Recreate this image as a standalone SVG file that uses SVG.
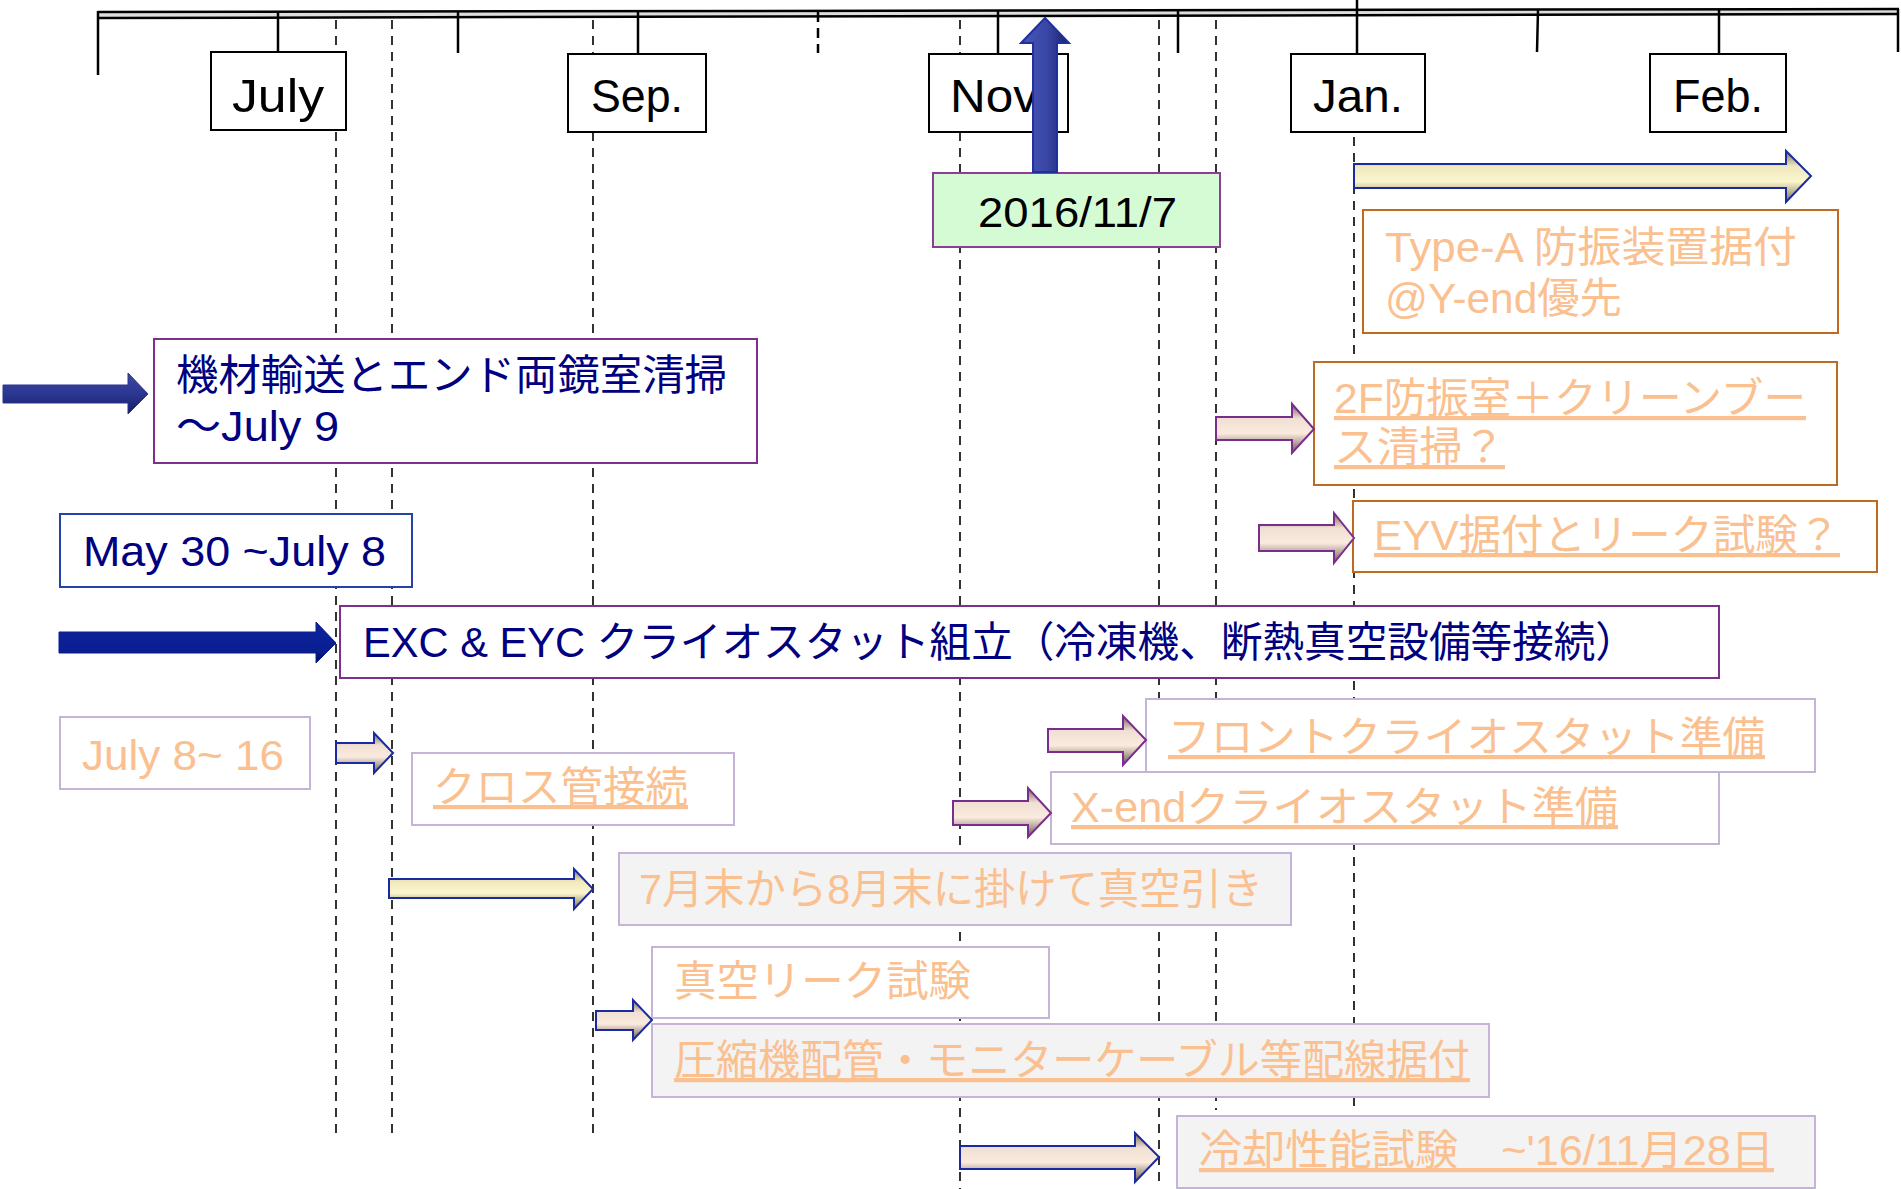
<svg xmlns="http://www.w3.org/2000/svg" width="1901" height="1189" viewBox="0 0 1901 1189">
<defs>
<style>
text{font-family:"Liberation Sans","Noto Sans CJK JP",sans-serif;}
.mon{font-size:46px;fill:#000;}
.nv{font-size:42px;fill:#000080;}
.or{font-size:42px;fill:#FAC090;}
.ul{text-decoration:underline;}
.mbox{fill:#fff;stroke:#000;stroke-width:2;}
.pbox{fill:#fff;stroke:#7E2E8C;stroke-width:2;}
.obox{fill:#fff;stroke:#BF6A1E;stroke-width:2;}
.lbox{fill:#fff;stroke:#C6B4D8;stroke-width:2;}
.gbox{fill:#F3F3F3;stroke:#C6B4D8;stroke-width:2;}
.bbox{fill:#fff;stroke:#2442A8;stroke-width:2;}
.tick{stroke:#000;stroke-width:2.5;fill:none;}
.dash{stroke:#000;stroke-width:1.6;stroke-dasharray:9 7;fill:none;}
.ay{fill:url(#gy);stroke:#1A2AA0;stroke-width:2;}
.ab{fill:url(#gb);stroke:#1A2AA0;stroke-width:2;}
.ap{fill:url(#gb);stroke:#7B2D8E;stroke-width:2;}
</style>
<linearGradient id="gy" x1="0" y1="0" x2="0" y2="1">
<stop offset="0" stop-color="#7E7656"/><stop offset="0.3" stop-color="#F0E8BC"/><stop offset="0.6" stop-color="#FBF6CE"/><stop offset="1" stop-color="#7A7252"/>
</linearGradient>
<linearGradient id="gb" x1="0" y1="0" x2="0" y2="1">
<stop offset="0" stop-color="#74645A"/><stop offset="0.3" stop-color="#F0E0D3"/><stop offset="0.6" stop-color="#FBEBDE"/><stop offset="1" stop-color="#665850"/>
</linearGradient>
<linearGradient id="gn" x1="0" y1="0" x2="0" y2="1">
<stop offset="0" stop-color="#3C48A2"/><stop offset="0.5" stop-color="#2C3792"/><stop offset="1" stop-color="#141C62"/>
</linearGradient>
<linearGradient id="gd" x1="0" y1="0" x2="0" y2="1">
<stop offset="0" stop-color="#0C2498"/><stop offset="0.7" stop-color="#0A1E92"/><stop offset="1" stop-color="#000A58"/>
</linearGradient>
<linearGradient id="gu" x1="0" y1="0" x2="1" y2="0">
<stop offset="0" stop-color="#4A56B6"/><stop offset="0.55" stop-color="#3A46A6"/><stop offset="1" stop-color="#1A2068"/>
</linearGradient>
</defs>
<rect width="1901" height="1189" fill="#fff"/>

<g id="timeline">
<polygon points="98,12 1899,9 1899,14 98,18" fill="#ddd"/>
<line x1="98" y1="12" x2="1899" y2="9" stroke="#000" stroke-width="2.5"/>
<line x1="98" y1="18" x2="1899" y2="14" stroke="#000" stroke-width="2.5"/>
<line class="tick" x1="98" y1="11" x2="98" y2="75"/>
<line class="tick" x1="278" y1="12" x2="278" y2="52"/>
<line class="tick" x1="458" y1="12" x2="458" y2="53"/>
<line class="tick" x1="638" y1="12" x2="638" y2="54" stroke-width="3.5"/>
<line class="tick" x1="818" y1="12" x2="818" y2="53" stroke-width="3" stroke-dasharray="10 6"/>
<line class="tick" x1="998" y1="11" x2="998" y2="54"/>
<line class="tick" x1="1178" y1="11" x2="1178" y2="53"/>
<line class="tick" x1="1357" y1="0" x2="1357" y2="54" stroke-width="5"/>
<line class="tick" x1="1538" y1="10" x2="1537" y2="52"/>
<line class="tick" x1="1719" y1="10" x2="1719" y2="54"/>
<line class="tick" x1="1898" y1="9" x2="1898" y2="52"/>
</g>

<g id="gridlines">
<line class="dash" x1="336" y1="20" x2="336" y2="1133"/>
<line class="dash" x1="392" y1="20" x2="392" y2="1133"/>
<line class="dash" x1="593" y1="20" x2="593" y2="1133"/>
<line class="dash" x1="960" y1="20" x2="960" y2="1189"/>
<line class="dash" x1="1159" y1="20" x2="1159" y2="1185"/>
<line class="dash" x1="1216" y1="20" x2="1216" y2="1110"/>
<line class="dash" x1="1354" y1="137" x2="1354" y2="1110"/>
</g>

<g id="month-july"><rect class="mbox" x="211" y="52" width="135" height="78"/><text class="mon" x="232" y="112" textLength="92" lengthAdjust="spacingAndGlyphs">July</text></g>
<g id="month-sep"><rect class="mbox" x="568" y="54" width="138" height="78"/><text class="mon" x="591" y="112" textLength="92" lengthAdjust="spacingAndGlyphs">Sep.</text></g>
<g id="month-nov"><rect class="mbox" x="929" y="54" width="139" height="78"/><text class="mon" x="950" y="112" textLength="88" lengthAdjust="spacingAndGlyphs">Nov</text></g>
<g id="month-jan"><rect class="mbox" x="1291" y="54" width="134" height="78"/><text class="mon" x="1313" y="112" textLength="90" lengthAdjust="spacingAndGlyphs">Jan.</text></g>
<g id="month-feb"><rect class="mbox" x="1650" y="54" width="136" height="78"/><text class="mon" x="1673" y="112" textLength="90" lengthAdjust="spacingAndGlyphs">Feb.</text></g>

<g id="date-20161107"><rect x="933" y="173" width="287" height="74" fill="#D5FBD5" stroke="#8E3C97" stroke-width="2"/><text x="978" y="227" font-size="42" fill="#000" textLength="199" lengthAdjust="spacingAndGlyphs">2016/11/7</text></g>

<g id="typeA"><rect class="obox" x="1363" y="210" width="475" height="123"/>
<text class="or"><tspan x="1385" y="262" textLength="412" lengthAdjust="spacingAndGlyphs">Type-A 防振装置据付</tspan><tspan x="1385" y="313" textLength="237" lengthAdjust="spacingAndGlyphs">@Y-end優先</tspan></text></g>

<g id="transport"><rect class="pbox" x="154" y="339" width="603" height="124"/>
<text class="nv"><tspan x="176" y="390" textLength="551" lengthAdjust="spacingAndGlyphs">機材輸送とエンド両鏡室清掃</tspan><tspan x="176" y="441" textLength="163" lengthAdjust="spacingAndGlyphs">～July 9</tspan></text></g>

<g id="clean2F"><rect class="obox" x="1314" y="362" width="523" height="123"/>
<text class="or ul"><tspan x="1334" y="413" textLength="472" lengthAdjust="spacingAndGlyphs">2F防振室＋クリーンブー</tspan><tspan x="1334" y="462" textLength="171" lengthAdjust="spacingAndGlyphs">ス清掃？</tspan></text></g>

<g id="may30"><rect class="bbox" x="60" y="514" width="352" height="73"/>
<text class="nv" x="83" y="566" textLength="303" lengthAdjust="spacingAndGlyphs">May 30 ~July 8</text></g>

<g id="eyv"><rect class="obox" x="1353" y="501" width="524" height="71"/>
<text class="or ul" x="1374" y="550" textLength="466" lengthAdjust="spacingAndGlyphs">EYV据付とリーク試験？</text></g>

<g id="exc"><rect class="pbox" x="340" y="606" width="1379" height="72"/>
<text class="nv" x="363" y="657" textLength="1274" lengthAdjust="spacingAndGlyphs">EXC &amp; EYC クライオスタット組立（冷凍機、断熱真空設備等接続）</text></g>

<g id="july8"><rect class="lbox" x="60" y="717" width="250" height="72"/>
<text class="or" x="82" y="770" textLength="202" lengthAdjust="spacingAndGlyphs">July 8~ 16</text></g>

<g id="cross"><rect class="lbox" x="412" y="753" width="322" height="72"/>
<text class="or ul" x="433" y="802" textLength="255" lengthAdjust="spacingAndGlyphs">クロス管接続</text></g>

<g id="front"><rect class="lbox" x="1146" y="699" width="669" height="73"/>
<text class="or ul" x="1168" y="752" textLength="597" lengthAdjust="spacingAndGlyphs">フロントクライオスタット準備</text></g>

<g id="xend"><rect class="lbox" x="1051" y="772" width="668" height="72"/>
<text class="or ul" x="1071" y="822" textLength="547" lengthAdjust="spacingAndGlyphs">X-endクライオスタット準備</text></g>

<g id="vacuum"><rect class="gbox" x="619" y="853" width="672" height="72"/>
<text class="or" x="639" y="904" textLength="624" lengthAdjust="spacingAndGlyphs">7月末から8月末に掛けて真空引き</text></g>

<g id="leak"><rect class="lbox" x="652" y="947" width="397" height="71"/>
<text class="or" x="674" y="996" textLength="297" lengthAdjust="spacingAndGlyphs">真空リーク試験</text></g>

<g id="compressor"><rect class="gbox" x="652" y="1024" width="837" height="73"/>
<text class="or ul" x="674" y="1075" textLength="796" lengthAdjust="spacingAndGlyphs">圧縮機配管・モニターケーブル等配線据付</text></g>

<g id="cooling"><rect class="gbox" x="1177" y="1116" width="638" height="72"/>
<text class="or ul" x="1199" y="1165" textLength="575" lengthAdjust="spacingAndGlyphs">冷却性能試験　~'16/11月28日</text></g>

<g id="connectors">
<polygon class="ay" points="1354,164 1786,164 1786,151 1811,176 1786,202 1786,188 1354,188"/>
<polygon points="3,385 128,385 128,373 148,394 128,414 128,403 3,403" fill="url(#gn)" stroke="#2A3592" stroke-width="1"/>
<polygon class="ap" points="1216,417 1292,417 1292,404 1314,429 1292,453 1292,440 1216,440"/>
<polygon class="ap" points="1259,525 1334,525 1334,513 1354,538 1334,563 1334,551 1259,551"/>
<polygon points="59,632 316,632 316,622 336,643 316,663 316,653 59,653" fill="url(#gd)" stroke="#0A1E92" stroke-width="1"/>
<polygon class="ab" points="336,743 374,743 374,733 393,753 374,773 374,763 336,763"/>
<polygon class="ap" points="1048,729 1123,729 1123,716 1146,740 1123,765 1123,752 1048,752"/>
<polygon class="ap" points="953,801 1028,801 1028,788 1051,813 1028,837 1028,825 953,825"/>
<polygon class="ay" points="389,879 574,879 574,869 593,889 574,909 574,898 389,898"/>
<polygon class="ab" points="596,1011 633,1011 633,1000 652,1020 633,1040 633,1030 596,1030"/>
<polygon class="ab" points="960,1146 1135,1146 1135,1133 1159,1157 1135,1182 1135,1169 960,1169"/>
<polygon points="1033,172 1033,43 1021,43 1045,18 1069,43 1057,43 1057,172" fill="url(#gu)" stroke="#2030A0" stroke-width="2"/>
</g>
</svg>
